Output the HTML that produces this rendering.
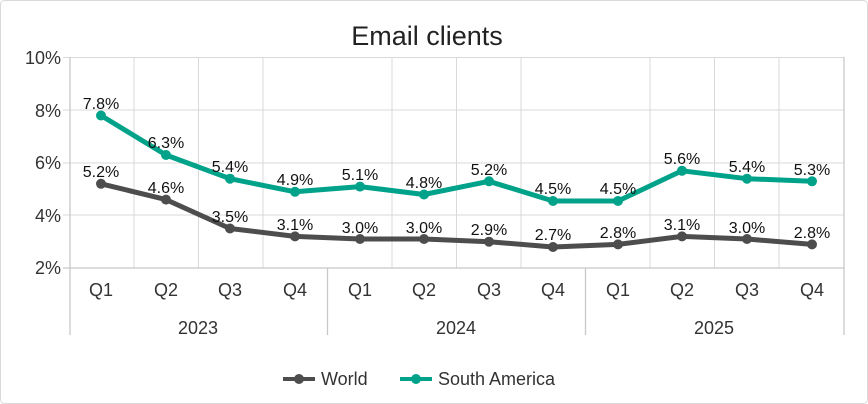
<html><body style="margin:0;background:#fff">
<svg width="868" height="404" xmlns="http://www.w3.org/2000/svg" font-family="Liberation Sans, sans-serif">
<rect x="0.5" y="0.5" width="867" height="403" rx="4" fill="#fff" stroke="#d9d9d9"/>
<text x="427" y="45" font-size="27" text-anchor="middle" fill="#222">Email clients</text>
<g stroke="#d9d9d9" stroke-width="1">
<line x1="63" y1="57.5" x2="844" y2="57.5"/><line x1="63" y1="110" x2="844" y2="110"/>
<line x1="63" y1="163" x2="844" y2="163"/><line x1="63" y1="215" x2="844" y2="215"/>
<line x1="134" y1="57" x2="134" y2="268"/><line x1="198.5" y1="57" x2="198.5" y2="268"/><line x1="263" y1="57" x2="263" y2="268"/>
<line x1="392" y1="57" x2="392" y2="268"/><line x1="456.5" y1="57" x2="456.5" y2="268"/><line x1="521" y1="57" x2="521" y2="268"/>
<line x1="650" y1="57" x2="650" y2="268"/><line x1="714.5" y1="57" x2="714.5" y2="268"/><line x1="779" y1="57" x2="779" y2="268"/>
</g>
<g stroke="#c8c8c8" stroke-width="1.3">
<line x1="63" y1="268" x2="844" y2="268"/>
<line x1="70" y1="57" x2="70" y2="335"/><line x1="327.5" y1="268" x2="327.5" y2="335"/><line x1="585.5" y1="268" x2="585.5" y2="335"/><line x1="844" y1="57" x2="844" y2="335"/>
</g>
<g font-size="18" fill="#333" text-anchor="end">
<text x="61" y="64">10%</text><text x="61" y="117">8%</text><text x="61" y="169">6%</text><text x="61" y="222">4%</text><text x="61" y="274">2%</text>
</g>
<g font-size="18" fill="#333" text-anchor="middle">
<text x="101" y="296">Q1</text><text x="166" y="296">Q2</text><text x="230" y="296">Q3</text><text x="295" y="296">Q4</text>
<text x="360" y="296">Q1</text><text x="424" y="296">Q2</text><text x="489" y="296">Q3</text><text x="553" y="296">Q4</text>
<text x="618" y="296">Q1</text><text x="682" y="296">Q2</text><text x="747" y="296">Q3</text><text x="812" y="296">Q4</text>
<text x="198" y="334">2023</text><text x="456" y="334">2024</text><text x="714" y="334">2025</text>
</g>
<polyline fill="none" stroke="#4d4d4d" stroke-width="5" stroke-linejoin="round" points="101,183.8 166,199.6 230,228.5 295,236.4 360,239 424,239 489,241.7 553,247 618,244.4 682,236.4 747,239 812,244.4"/>
<polyline fill="none" stroke="#00a38a" stroke-width="5" stroke-linejoin="round" points="101,115.5 166,155 230,178.7 295,191.8 360,186.6 424,194.5 489,181.3 553,201 618,201 682,170.8 747,178.7 812,181.3"/>
<g fill="#4d4d4d">
<circle cx="101" cy="183.8" r="5"/><circle cx="166" cy="199.6" r="5"/><circle cx="230" cy="228.5" r="5"/><circle cx="295" cy="236.4" r="5"/><circle cx="360" cy="239" r="5"/><circle cx="424" cy="239" r="5"/><circle cx="489" cy="241.7" r="5"/><circle cx="553" cy="247" r="5"/><circle cx="618" cy="244.4" r="5"/><circle cx="682" cy="236.4" r="5"/><circle cx="747" cy="239" r="5"/><circle cx="812" cy="244.4" r="5"/>
</g>
<g fill="#00a38a">
<circle cx="101" cy="115.5" r="5"/><circle cx="166" cy="155" r="5"/><circle cx="230" cy="178.7" r="5"/><circle cx="295" cy="191.8" r="5"/><circle cx="360" cy="186.6" r="5"/><circle cx="424" cy="194.5" r="5"/><circle cx="489" cy="181.3" r="5"/><circle cx="553" cy="201" r="5"/><circle cx="618" cy="201" r="5"/><circle cx="682" cy="170.8" r="5"/><circle cx="747" cy="178.7" r="5"/><circle cx="812" cy="181.3" r="5"/>
</g>
<g font-size="16" fill="#111" text-anchor="middle">
<text x="101" y="109">7.8%</text><text x="166" y="148">6.3%</text><text x="230" y="172">5.4%</text><text x="295" y="185">4.9%</text><text x="360" y="180">5.1%</text><text x="424" y="188">4.8%</text><text x="489" y="175">5.2%</text><text x="553" y="194">4.5%</text><text x="618" y="194">4.5%</text><text x="682" y="164">5.6%</text><text x="747" y="172">5.4%</text><text x="812" y="175">5.3%</text>
<text x="101" y="177">5.2%</text><text x="166" y="193">4.6%</text><text x="230" y="222">3.5%</text><text x="295" y="230">3.1%</text><text x="360" y="233">3.0%</text><text x="424" y="233">3.0%</text><text x="489" y="235">2.9%</text><text x="553" y="240">2.7%</text><text x="618" y="238">2.8%</text><text x="682" y="230">3.1%</text><text x="747" y="233">3.0%</text><text x="812" y="238">2.8%</text>
</g>
<line x1="283" y1="379" x2="315" y2="379" stroke="#4d4d4d" stroke-width="4"/><circle cx="299" cy="379" r="5" fill="#4d4d4d"/>
<text x="321" y="385" font-size="18" fill="#333">World</text>
<line x1="400" y1="379" x2="432" y2="379" stroke="#00a38a" stroke-width="4"/><circle cx="416" cy="379" r="5" fill="#00a38a"/>
<text x="438" y="385" font-size="18" fill="#333">South America</text>
</svg>
</body></html>
